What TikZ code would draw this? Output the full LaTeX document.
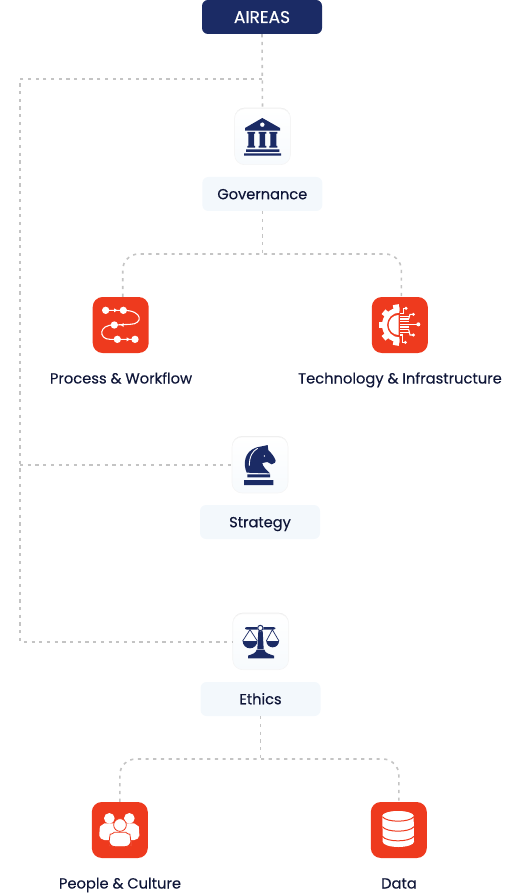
\documentclass[tikz,border=0pt]{standalone}
\usepackage{fontspec}
\setmainfont{Poppins}[FakeBold=0.25]
\usetikzlibrary{shadows}
\definecolor{navy}{HTML}{1B2B65}
\definecolor{redbox}{HTML}{EE3A1E}
\definecolor{pale}{HTML}{F3F8FC}
\definecolor{ink}{HTML}{0F1638}
\definecolor{dashc}{HTML}{C4C4C4}
\tikzset{
  x=1pt,y=-1pt,
  labelbox/.style={fill=pale,rounded corners=6,minimum width=120,minimum height=34,inner sep=0,text=ink,font=\fontsize{14.6}{16}\selectfont,text height=10.5,text depth=0},
  topbox/.style={labelbox,fill=navy,text=white,font=\fontsize{17}{18}\selectfont,text height=12,text depth=0},
  iconbox/.style={minimum size=56,inner sep=0,rounded corners=10,top color=white,bottom color=pale!70,draw=black!4,line width=.6,drop shadow={shadow xshift=0,shadow yshift=-1,opacity=.07,fill=black}},
  redicon/.style={minimum size=56,inner sep=0,rounded corners=10,fill=redbox},
  capt/.style={inner sep=0,anchor=base,text=ink,font=\fontsize{14.7}{16}\selectfont},
  dashline/.style={draw=dashc,line width=1.6,dash pattern=on 3.2 off 4.5},
  curved/.style={dashline,rounded corners=16},
  zoomed/.style={shift={#1},scale=1/3},
}
\begin{document}
\begin{tikzpicture}
\useasboundingbox (0,0) rectangle (520,893);
% nodes
\node[topbox] (aireas) at (262,17) {AIREAS};
\node[iconbox] (gov) at (262.5,136.7) {};
\node[labelbox] (govl) at (262.3,194) {Governance};
\node[redicon] (pw) at (120.7,325) {};
\node[redicon] (tech) at (399.8,325) {};
\node[capt] (pwl) at (121,383.5) {Process \& Workflow};
\node[capt] (techl) at (400,383.5) {Technology \& Infrastructure};
\node[iconbox] (strat) at (260,465) {};
\node[labelbox] (stratl) at (260,522) {Strategy};
\node[iconbox] (eth) at (260.7,641.7) {};
\node[labelbox] (ethl) at (260.5,699) {Ethics};
\node[redicon] (ppl) at (119.8,830) {};
\node[redicon] (data) at (398.8,830) {};
\node[capt] (ppll) at (120,888.5) {People \& Culture};
\node[capt] (datal) at (399,888.5) {Data};
% junctions
\coordinate (trunktop) at (262,79);
\coordinate (corner) at (20,79);
\coordinate (govj) at (262.3,254);
\coordinate (ethj) at (260.5,759);
% connectors
\draw[dashline] (aireas.south) -- (gov.north);
\draw[dashline] (trunktop) -- (corner) -- (corner |- eth.west) -- (eth.west);
\draw[dashline] (corner |- strat.west) -- (strat.west);
\draw[dashline] (govl.south) -- (govj);
\draw[curved] ([xshift=2]pw.north) -- ([xshift=2]pw.north |- govj) -- ([xshift=1.5]tech.north |- govj) -- ([xshift=1.5]tech.north);
\draw[dashline] (ethl.south) -- (ethj);
\draw[curved] (ppl.north) -- (ppl.north |- ethj) -- (data.north |- ethj) -- (data.north);
% governance icon
\begin{scope}[zoomed={(190,0)},navy]
\fill[even odd rule] (165,384) -- (217,354) -- (270,384) -- (270,392) -- (165,392) -- cycle (217,374) circle (7);
\fill (172,396) rectangle (195,401) (175,401) rectangle (192,438) (172,438) rectangle (195,443);
\fill (206,396) rectangle (229,401) (209,401) rectangle (225,438) (206,438) rectangle (229,443);
\fill (238,396) rectangle (262,401) (241,401) rectangle (259,438) (238,438) rectangle (262,443);
\fill (168,448) rectangle (268,456) (162,460) rectangle (273,467);
\end{scope}
% process icon
\begin{scope}[zoomed={(80,285)},white]
\draw[line width=1.1] (77,76) -- (130,76) .. controls (190,76) and (190,118) .. (150,118) -- (103,120)
  .. controls (55,118) and (55,163) .. (90,163) -- (165,163);
\fill (77,76) circle (11) (130,76) circle (11) (103,120) circle (11) (112,163) circle (11) (165,163) circle (11);
\fill (112,76) -- (102,70) -- (102,82) -- cycle (122,120) -- (131,114) -- (131,126) -- cycle (150,163) -- (140,157) -- (140,169) -- cycle;
\end{scope}
% technology icon
\begin{scope}[zoomed={(360,285)},white]
\begin{scope}
\clip (0,0) rectangle (118,240);
\fill (118,68) arc (-90:-270:52) -- (118,157) arc (90:270:37) -- cycle;
\foreach \a in {100,140,180,220,260}
  \fill[rotate around={\a:(118,120)}] (160,111) rectangle (180,129);
\end{scope}
\fill (116,90) arc (-90:-270:30) -- cycle;
\foreach \yy in {94,102,110,118,126,134,142}
  \draw[line width=1.1] (120,\yy) -- (146,\yy);
\draw[line width=1.1] (120,86) -- (130,86) -- (130,70) -- (138,70);
\draw[line width=1.1] (146,102) -- (150,88) -- (160,88);
\draw[line width=1.1] (146,118) -- (178,118);
\draw[line width=1.1] (146,134) -- (150,150) -- (160,150);
\draw[line width=1.1] (120,150) -- (128,150) -- (128,172) -- (136,172);
\fill (138,70) circle (5) (160,88) circle (5) (175,118) circle (6) (160,150) circle (5) (136,172) circle (5);
\end{scope}
% knight icon
\begin{scope}[zoomed={(220,425)},navy]
\fill (80,143) .. controls (70,120) and (70,80) .. (110,67) -- (135,62) -- (143,60) -- (145,76)
  .. controls (155,85) and (163,95) .. (167,107) -- (165,113) -- (155,118) -- (142,111) -- (127,114)
  .. controls (128,125) and (140,135) .. (150,145) -- cycle;
\draw[white,line width=.9] (88,122) .. controls (88,95) and (97,78) .. (113,70);
\fill[white] (133,93) circle (2.5);
\fill (82,148) rectangle (150,157) (72,165) rectangle (160,180);
\end{scope}
% scales icon
\begin{scope}[zoomed={(220,605)},navy]
\fill[rounded corners=2] (75,66) rectangle (166,74);
\fill (115,78) -- (128,78) -- (131,132) -- (112,132) -- cycle;
\fill (110,134) -- (133,134) .. controls (135,145) and (150,148) .. (162,152) -- (162,160) -- (84,160) -- (84,152) .. controls (95,148) and (108,145) .. (110,134) -- cycle;
\fill[white] (121,69) circle (10);
\draw[navy,line width=1] (121,69) circle (8);
\draw[line width=.7] (68,108) -- (90,74) -- (112,108) (139,108) -- (157,74) -- (177,108);
\fill (68,108) arc (180:0:22) -- cycle;
\fill (139,108) arc (180:0:19) -- cycle;
\end{scope}
% people icon
\begin{scope}[zoomed={(80,790)},white]
\fill (88,85) circle (16) (148,85) circle (16);
\fill[rounded corners=5] (58,150) -- (58,125) .. controls (60,108) and (75,100) .. (88,100) .. controls (100,100) and (112,105) .. (118,120) -- (118,150) -- cycle;
\fill[rounded corners=5] (178,150) -- (178,125) .. controls (176,108) and (161,100) .. (148,100) .. controls (136,100) and (124,105) .. (118,120) -- (118,150) -- cycle;
\fill[draw=redbox,line width=.8] (120,105) circle (19);
\fill[draw=redbox,line width=.8,rounded corners=6] (87,170) -- (87,150) .. controls (90,135) and (105,127) .. (120,127) .. controls (135,127) and (150,135) .. (153,150) -- (153,170) -- cycle;
\end{scope}
% data icon
\begin{scope}[zoomed={(360,790)}]
\fill[white] (67,78) arc (180:360:47 and 14) -- (162,155) arc (0:180:47 and 16) -- cycle;
\fill[white] (114,78) ellipse (47 and 15);
\draw[redbox,line width=1] (67,80) .. controls (80,98) and (148,98) .. (162,80);
\draw[redbox,line width=1] (67,110) .. controls (80,128) and (148,128) .. (162,110);
\draw[redbox,line width=1] (67,139) .. controls (80,157) and (148,157) .. (162,139);
\end{scope}
\end{tikzpicture}
\end{document}
